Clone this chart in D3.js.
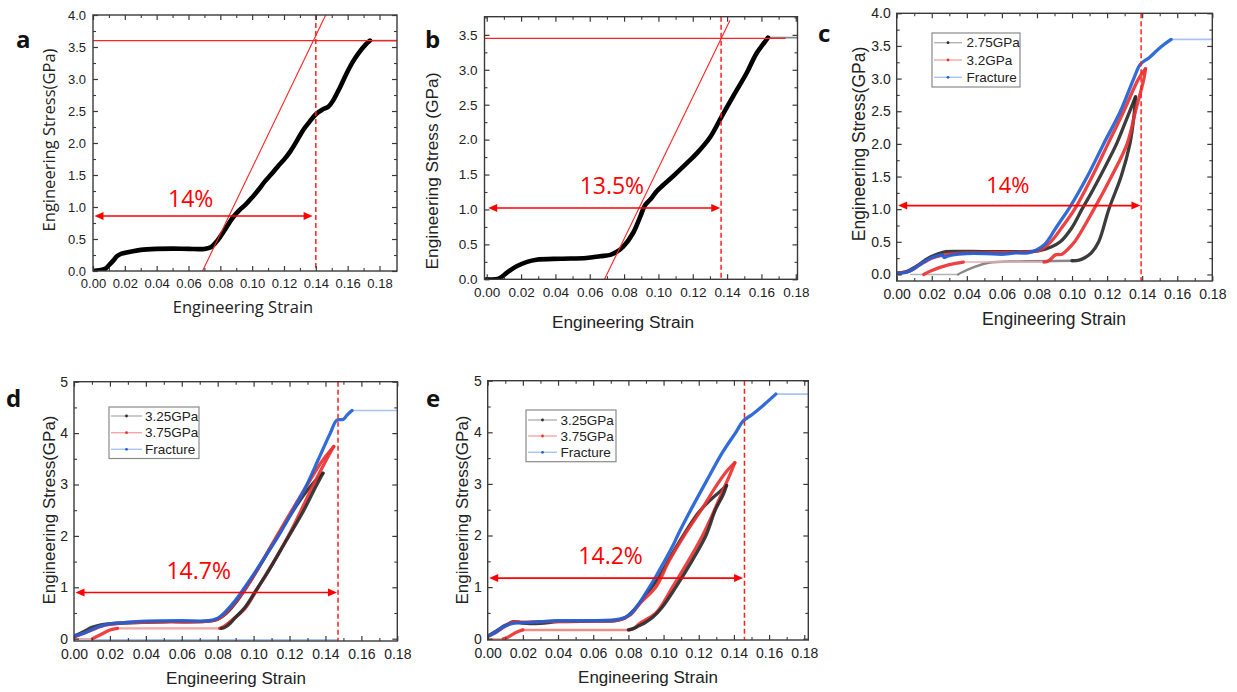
<!DOCTYPE html>
<html>
<head>
<meta charset="utf-8">
<style>
  body { margin: 0; background: #fff; }
  svg { display: block; }
</style>
</head>
<body>
<svg id="chart" width="1237" height="692"></svg>
<script src="https://cdn.jsdelivr.net/npm/d3@7/dist/d3.min.js"></script>
<script>
// ---------- tick values ----------
const strainTicks = [0, 0.02, 0.04, 0.06, 0.08, 0.10, 0.12, 0.14, 0.16, 0.18]
const strainMinor = [0.01, 0.03, 0.05, 0.07, 0.09, 0.11, 0.13, 0.15, 0.17]
const stressTicks4 = [0, 0.5, 1.0, 1.5, 2.0, 2.5, 3.0, 3.5, 4.0]
const stressTicks35 = [0, 0.5, 1.0, 1.5, 2.0, 2.5, 3.0, 3.5]
const stressMinorHalf = [0.25, 0.75, 1.25, 1.75, 2.25, 2.75, 3.25, 3.75]
const stressTicks5 = [0, 1, 2, 3, 4, 5]
const stressMinorOne = [0.5, 1.5, 2.5, 3.5, 4.5]

// ---------- panel a ----------
const aCurve = [[0,0],[0.004,0.01],[0.008,0.04],[0.010,0.09],[0.013,0.17],[0.015,0.23],[0.018,0.27],[0.021,0.29],[0.025,0.31],[0.03,0.33],[0.04,0.345],[0.05,0.35],[0.06,0.345],[0.07,0.345],[0.074,0.37],[0.078,0.47],[0.083,0.65],[0.088,0.84],[0.092,0.95],[0.096,1.04],[0.100,1.15],[0.104,1.27],[0.108,1.40],[0.112,1.51],[0.116,1.63],[0.120,1.74],[0.124,1.87],[0.128,2.03],[0.132,2.20],[0.136,2.33],[0.140,2.45],[0.144,2.52],[0.148,2.57],[0.151,2.67],[0.155,2.86],[0.159,3.07],[0.163,3.26],[0.167,3.41],[0.171,3.53],[0.174,3.60]]
const aTail = [[0.174,3.6],[0.191,3.6]]
const aPeak = 3.6
const aSlope = [[0.0688,0],[0.1462,4.0]]
const aDash = 0.14
const aArrow = [0.0, 0.138, 0.86]
const aText = ["14%", 0.0614, 1.0]

// ---------- panel b ----------
const bCurve = [[0,0],[0.007,0.01],[0.012,0.10],[0.0177,0.19],[0.0235,0.25],[0.029,0.28],[0.043,0.295],[0.058,0.305],[0.066,0.33],[0.072,0.35],[0.0755,0.39],[0.0796,0.47],[0.0854,0.67],[0.0893,0.89],[0.0922,1.06],[0.0955,1.15],[0.099,1.26],[0.1028,1.35],[0.1087,1.48],[0.1164,1.66],[0.1222,1.80],[0.130,2.03],[0.1368,2.33],[0.1435,2.62],[0.1513,2.95],[0.157,3.23],[0.162,3.40],[0.1638,3.46]]
const bTail = [[0.1638,3.46],[0.181,3.46]]
const bPeak = 3.45
const bPeakLineEnd = 0.174
const bSlope = [[0.0686,0],[0.1417,3.71]]
const bDash = 0.1365
const bArrow = [0.0, 0.136, 1.02]
const bText = ["13.5%", 0.0729, 1.22]

// ---------- panel c ----------
const cBlackLoad = [[0,0.02],[0.006,0.05],[0.012,0.14],[0.018,0.25],[0.024,0.32],[0.028,0.35],[0.035,0.355],[0.05,0.35],[0.065,0.35],[0.075,0.35],[0.082,0.37],[0.088,0.42],[0.0933,0.5],[0.100,0.72],[0.1057,1.0],[0.111,1.25],[0.116,1.5],[0.121,1.76],[0.1257,2.02],[0.1314,2.4],[0.1362,2.72]]
const cBlackUnload = [[0.1362,2.72],[0.1352,2.4],[0.1330,2.0],[0.128,1.5],[0.121,1.0],[0.1152,0.5],[0.111,0.33],[0.1075,0.26],[0.104,0.22],[0.100,0.21]]
const cBlackPlateau = [[0.100,0.21],[0.07,0.2],[0.0524,0.18],[0.0448,0.12],[0.037,0.03],[0.035,0]]
const cBlackBase = [[0.035,0],[0.008,0]]
const cRedLoad = [[0,0.02],[0.006,0.04],[0.010,0.09],[0.014,0.16],[0.020,0.25],[0.025,0.29],[0.030,0.31],[0.040,0.33],[0.050,0.33],[0.060,0.335],[0.070,0.34],[0.078,0.35],[0.082,0.38],[0.086,0.45],[0.0895,0.55],[0.095,0.75],[0.1015,1.0],[0.1115,1.5],[0.1205,2.0],[0.1295,2.5],[0.138,3.0],[0.1419,3.15]]
const cRedUnload = [[0.1419,3.15],[0.141,3.0],[0.1362,2.5],[0.1314,2.0],[0.1225,1.5],[0.1125,1.0],[0.1015,0.5],[0.097,0.37],[0.0943,0.31],[0.0905,0.30],[0.0867,0.21],[0.084,0.19]]
const cRedPlateau = [[0.084,0.19],[0.06,0.19],[0.038,0.19]]
const cRedDrop = [[0.038,0.19],[0.030,0.15],[0.020,0.06],[0.0154,0.0]]
const cBlueLoad = [[0,0.02],[0.005,0.03],[0.008,0.06],[0.012,0.13],[0.016,0.20],[0.020,0.26],[0.024,0.29],[0.026,0.30],[0.027,0.26],[0.029,0.28],[0.032,0.30],[0.040,0.32],[0.050,0.32],[0.060,0.31],[0.068,0.33],[0.075,0.33],[0.080,0.38],[0.084,0.45],[0.087,0.55],[0.090,0.68],[0.094,0.84],[0.0985,1.02],[0.1087,1.5],[0.118,2.0],[0.1276,2.5],[0.1352,3.0],[0.139,3.22],[0.144,3.32],[0.150,3.47],[0.1565,3.6]]
const cBlueTail = [[0.1565,3.6],[0.18,3.6]]
const cDash = 0.1394
const cArrow = [0.0, 0.139, 1.055]
const cText = ["14%", 0.0634, 1.25]
const cLegend = ["2.75GPa", "3.2GPa", "Fracture"]

// ---------- panel d ----------
const dBlueLoad = [[0,0.05],[0.005,0.10],[0.010,0.18],[0.015,0.25],[0.020,0.29],[0.025,0.30],[0.030,0.32],[0.040,0.34],[0.060,0.35],[0.075,0.35],[0.080,0.40],[0.085,0.55],[0.090,0.75],[0.0951,1.0],[0.100,1.25],[0.105,1.52],[0.1138,2.0],[0.122,2.5],[0.1297,3.0],[0.1362,3.5],[0.1427,4.0],[0.1463,4.25],[0.150,4.27],[0.152,4.35],[0.1548,4.44]]
const dBlueTail = [[0.1548,4.44],[0.18,4.44]]
const dBlueBase = [[0.0,-0.02],[0.147,-0.02]]
const dBlackLoad = [[0,0.05],[0.005,0.13],[0.010,0.22],[0.015,0.27],[0.020,0.29],[0.030,0.31],[0.050,0.33],[0.075,0.34],[0.080,0.38],[0.085,0.50],[0.090,0.70],[0.096,1.0],[0.100,1.22],[0.110,1.80],[0.120,2.38],[0.128,2.80],[0.133,3.02],[0.1386,3.22]]
const dBlackUnload = [[0.1386,3.22],[0.1345,2.95],[0.128,2.5],[0.118,1.9],[0.108,1.3],[0.1015,0.95],[0.095,0.6],[0.0895,0.4],[0.087,0.3],[0.084,0.22],[0.082,0.2]]
const dRedLoad = [[0,0.03],[0.005,0.10],[0.010,0.17],[0.015,0.24],[0.020,0.28],[0.030,0.31],[0.050,0.33],[0.075,0.34],[0.080,0.38],[0.085,0.52],[0.090,0.72],[0.096,1.0],[0.100,1.22],[0.110,1.82],[0.120,2.42],[0.130,3.0],[0.138,3.45],[0.1446,3.74]]
const dRedUnload = [[0.1446,3.74],[0.1408,3.5],[0.1334,3.0],[0.1194,2.0],[0.1026,1.0],[0.095,0.58],[0.0886,0.38],[0.083,0.23],[0.0811,0.2]]
const dRedPlateau = [[0.0811,0.2],[0.024,0.2]]
const dRedDrop = [[0.0242,0.2],[0.020,0.17],[0.015,0.08],[0.0102,0]]
const dRedBase = [[0.0102,0],[0,0]]
const dDash = 0.147
const dArrow = [0.0, 0.1464, 0.90]
const dText = ["14.7%", 0.0694, 1.16]
const dLegend = ["3.25GPa", "3.75GPa", "Fracture"]

// ---------- panel e ----------
const eBlueLoad = [[0,0.05],[0.0051,0.14],[0.0089,0.23],[0.0136,0.29],[0.0203,0.31],[0.030,0.33],[0.039,0.35],[0.058,0.35],[0.075,0.38],[0.0805,0.46],[0.0862,0.69],[0.092,1.0],[0.0957,1.21],[0.1051,1.79],[0.108,2.0],[0.1146,2.44],[0.124,3.03],[0.1335,3.61],[0.1411,4.0],[0.1453,4.22],[0.1506,4.35],[0.1563,4.51],[0.1638,4.74]]
const eBlueTail = [[0.1638,4.74],[0.183,4.74]]
const eRedLoad = [[0,0.04],[0.005,0.13],[0.009,0.22],[0.013,0.30],[0.016,0.33],[0.020,0.32],[0.030,0.33],[0.050,0.34],[0.070,0.35],[0.076,0.38],[0.081,0.46],[0.087,0.70],[0.0956,1.0],[0.103,1.5],[0.1117,2.0],[0.1215,2.5],[0.1307,3.0],[0.136,3.25],[0.1405,3.41]]
const eRedUnload = [[0.1405,3.41],[0.138,3.2],[0.1354,3.0],[0.1222,2.0],[0.1051,1.0],[0.0957,0.5],[0.0862,0.29],[0.0833,0.2],[0.0805,0.17]]
const eRedPlateau = [[0.0805,0.17],[0.020,0.17]]
const eRedDrop = [[0.020,0.17],[0.016,0.12],[0.012,0.04],[0.0089,0.0]]
const eRedBase = [[0.0089,0],[0,0]]
const eBlackLoad = [[0,0.05],[0.005,0.15],[0.010,0.26],[0.015,0.33],[0.020,0.30],[0.030,0.30],[0.040,0.33],[0.060,0.34],[0.073,0.35],[0.078,0.40],[0.083,0.55],[0.090,0.85],[0.0975,1.2],[0.105,1.65],[0.113,2.1],[0.120,2.45],[0.127,2.70],[0.132,2.85],[0.1358,2.97]]
const eBlackUnload = [[0.1358,2.97],[0.134,2.8],[0.1295,2.5],[0.1241,2.0],[0.116,1.5],[0.107,1.0],[0.099,0.6],[0.094,0.42],[0.089,0.3],[0.086,0.25],[0.083,0.2],[0.080,0.17]]
const eDash = 0.146
const eArrow = [0.0, 0.1452, 1.175]
const eText = ["14.2%", 0.0699, 1.45]
const eLegend = ["3.25GPa", "3.75GPa", "Fracture"]

// ---------- styles ----------
const BLACK = "#2b2b2b", RED = "#ea3232", BLUE = "#1f5fd6"
const BLACK_F = "#b4b4b4", RED_F = "#f3a6a6", BLUE_F = "#a9c3f2"
const ARROW_RED = "#ff0000"
const sansTick = "'Liberation Sans', Arial, sans-serif"
const sansTitle = "'Open Sans', 'Liberation Sans', sans-serif"

const svg = d3.select("#chart")
const line = d3.line().curve(d3.curveCatmullRom.alpha(0.5))

function drawPanel(p) {
  const x = d3.scaleLinear().domain(p.xDomain).range([p.left, p.right])
  const y = d3.scaleLinear().domain(p.yDomain).range([p.bottom, p.top])
  const g = svg.append("g")
  line.x(d => x(d[0])).y(d => y(d[1]))

  // curves
  const clip = "clip-" + p.letter
  g.append("clipPath").attr("id", clip).append("rect")
    .attr("x", p.left).attr("y", p.top).attr("width", p.right - p.left).attr("height", p.bottom - p.top)
  const cg = g.append("g").attr("clip-path", `url(#${clip})`)
  for (const s of p.series) {
    cg.append("path").attr("d", line(s.pts))
      .attr("fill", "none").attr("stroke", s.color)
      .attr("stroke-width", s.width).attr("stroke-opacity", s.opacity || 1)
      .attr("stroke-linecap", "round").attr("stroke-linejoin", "round")
  }

  // red annotations
  const ag = g.append("g")
  if (p.peak !== undefined) {
    ag.append("line").attr("x1", p.left).attr("x2", x(p.peakEnd))
      .attr("y1", y(p.peak)).attr("y2", y(p.peak))
      .attr("stroke", "#ff2222").attr("stroke-width", 1.3)
    ag.append("line").attr("x1", x(p.slope[0][0])).attr("y1", y(p.slope[0][1]))
      .attr("x2", x(p.slope[1][0])).attr("y2", y(p.slope[1][1]))
      .attr("stroke", "#ff2222").attr("stroke-width", 1.1)
  }
  ag.append("line").attr("x1", x(p.dash)).attr("x2", x(p.dash))
    .attr("y1", p.top).attr("y2", p.bottom)
    .attr("stroke", "#ff2020").attr("stroke-width", 1.5).attr("stroke-dasharray", "5,3")
  const ay = y(p.arrow[2]), ax1 = x(p.arrow[0]) + 1.5, ax2 = x(p.arrow[1])
  ag.append("line").attr("x1", ax1 + 6).attr("x2", ax2 - 6).attr("y1", ay).attr("y2", ay)
    .attr("stroke", ARROW_RED).attr("stroke-width", 1.6)
  ag.append("path").attr("d", `M${ax1},${ay}L${ax1 + 9},${ay - 4}L${ax1 + 9},${ay + 4}Z`).attr("fill", ARROW_RED)
  ag.append("path").attr("d", `M${ax2},${ay}L${ax2 - 9},${ay - 4}L${ax2 - 9},${ay + 4}Z`).attr("fill", ARROW_RED)
  ag.append("text").attr("x", x(p.text[1])).attr("y", y(p.text[2]))
    .attr("text-anchor", "middle").attr("fill", ARROW_RED)
    .attr("font-family", sansTitle).attr("font-size", p.textSize)
    .text(p.text[0])

  // frame
  g.append("rect").attr("x", p.left).attr("y", p.top)
    .attr("width", p.right - p.left).attr("height", p.bottom - p.top)
    .attr("fill", "none").attr("stroke", "#3a3a3a").attr("stroke-width", 1.4)

  // axes with inward ticks on all four sides
  const fx = d3.format(".2f"), fy = d3.format(p.yFormat)
  const axes = [
    [d3.axisBottom(x), `translate(0,${p.bottom})`, strainTicks, strainMinor, fx, true],
    [d3.axisTop(x), `translate(0,${p.top})`, strainTicks, strainMinor, fx, false],
    [d3.axisLeft(y), `translate(${p.left},0)`, p.yTicks, p.yMinor, fy, true],
    [d3.axisRight(y), `translate(${p.right},0)`, p.yTicks, p.yMinor, fy, false]
  ]
  axes.forEach(([ax, tr, major, minor, fmt, labels], i) => {
    const scaleDomain = i < 2 ? p.xDomain : p.yDomain
    const inside = v => v >= scaleDomain[0] - 1e-9 && v <= scaleDomain[1] + 1e-9
    const ag2 = g.append("g").attr("transform", tr)
      .call(ax.tickValues(major.filter(inside)).tickSizeInner(-5).tickSizeOuter(0)
        .tickPadding(i < 2 ? p.xPad : p.yPad).tickFormat(labels ? fmt : ""))
    ag2.select(".domain").remove()
    ag2.selectAll("line").attr("stroke", "#3a3a3a").attr("stroke-width", 1.2)
    ag2.selectAll("text").attr("font-family", sansTick).attr("font-size", p.tickSize).attr("fill", "#222")
    const mg = g.append("g").attr("transform", tr)
      .call(ax.tickValues(minor.filter(inside)).tickSizeInner(-3).tickFormat(""))
    mg.select(".domain").remove()
    mg.selectAll("line").attr("stroke", "#3a3a3a").attr("stroke-width", 1.1)
  })

  // titles
  g.append("text").attr("x", p.xTitle[0]).attr("y", p.xTitle[1])
    .attr("text-anchor", "middle").attr("font-family", p.titleFont)
    .attr("font-size", p.titleSize).attr("fill", "#222").text("Engineering Strain")
  g.append("text").attr("transform", `translate(${p.yTitle[0]},${p.yTitle[1]}) rotate(-90)`)
    .attr("text-anchor", "middle").attr("dominant-baseline", "central").attr("font-family", p.titleFont)
    .attr("font-size", p.titleSize).attr("fill", "#222").text(p.yTitleText)
  g.append("text").attr("x", p.letterPos[0]).attr("y", p.letterPos[1])
    .attr("font-family", sansTitle).attr("font-weight", "bold").attr("font-size", 24)
    .attr("fill", "#111").text(p.letter)

  // legend
  if (p.legend) {
    const L = p.legend
    g.append("rect").attr("x", L.box[0]).attr("y", L.box[1]).attr("width", L.box[2]).attr("height", L.box[3])
      .attr("fill", "#fff").attr("stroke", "#8a8a8a").attr("stroke-width", 1.2)
    const cols = [[BLACK_F, BLACK], [RED_F, RED], [BLUE_F, BLUE]]
    L.names.forEach((name, i) => {
      const yy = L.rows[i]
      g.append("line").attr("x1", L.line[0]).attr("x2", L.line[1]).attr("y1", yy).attr("y2", yy)
        .attr("stroke", cols[i][0]).attr("stroke-width", 1.4)
      g.append("circle").attr("cx", (L.line[0] + L.line[1]) / 2).attr("cy", yy).attr("r", 1.4).attr("fill", cols[i][1])
      g.append("text").attr("x", L.textX).attr("y", yy).attr("dominant-baseline", "central")
        .attr("font-family", sansTick).attr("font-size", 13.5).attr("fill", "#222").text(name)
    })
  }
}

const thick = (pts, color) => ({ pts, color, width: 3.3, opacity: 0.92 })
const faint = (pts, color) => ({ pts, color, width: 1.6 })

drawPanel({
  letter: "a", letterPos: [16, 48],
  left: 93, right: 397, top: 15, bottom: 271,
  xDomain: [0, 0.191], yDomain: [0, 4.0],
  yTicks: stressTicks4, yMinor: stressMinorHalf, yFormat: ".1f",
  tickSize: 13, xPad: 8, yPad: 7,
  series: [faint(aTail, "#999"), { pts: aCurve, color: "#000", width: 4.6 }],
  peak: aPeak, peakEnd: 0.191, slope: aSlope,
  dash: aDash, arrow: aArrow, text: aText, textSize: 23,
  titleFont: sansTitle, titleSize: 16.5,
  xTitle: [243, 313], yTitle: [48, 140], yTitleText: "Engineering Stress(GPa)"
})

drawPanel({
  letter: "b", letterPos: [425, 48],
  left: 484.5, right: 797.5, top: 16.7, bottom: 279.3,
  xDomain: [-0.0013, 0.181], yDomain: [0, 3.76],
  yTicks: stressTicks35, yMinor: stressMinorHalf, yFormat: ".1f",
  tickSize: 13.5, xPad: 8, yPad: 7,
  series: [faint(bTail, "#888"), { pts: bCurve, color: "#000", width: 4.6 }],
  peak: bPeak, peakEnd: bPeakLineEnd, slope: bSlope,
  dash: bDash, arrow: bArrow, text: bText, textSize: 23,
  titleFont: sansTick, titleSize: 17.3,
  xTitle: [623, 328], yTitle: [432, 171], yTitleText: "Engineering Stress (GPa)"
})

drawPanel({
  letter: "c", letterPos: [818, 42],
  left: 896.7, right: 1212.3, top: 13.3, bottom: 281,
  xDomain: [0, 0.18], yDomain: [-0.1, 4.0],
  yTicks: stressTicks4, yMinor: stressMinorHalf, yFormat: ".1f",
  tickSize: 14, xPad: 8, yPad: 6,
  series: [
    faint(cBlackBase, BLACK_F), { pts: cBlackPlateau, color: "#888", width: 2.4 },
    faint(cRedPlateau, "#e9b0b0"), faint(cBlueTail, BLUE_F),
    thick(cBlackLoad, BLACK), thick(cBlackUnload, BLACK),
    thick(cRedDrop, RED), thick(cRedLoad, RED), thick(cRedUnload, RED),
    thick(cBlueLoad, BLUE)
  ],
  dash: cDash, arrow: cArrow, text: cText, textSize: 22,
  titleFont: sansTick, titleSize: 17.5,
  xTitle: [1054, 325], yTitle: [859, 144], yTitleText: "Engineering Stress(GPa)",
  legend: { box: [932, 33, 88, 54], rows: [42.7, 60, 77.3], line: [934, 962], textX: 966.5, names: cLegend }
})

drawPanel({
  letter: "d", letterPos: [6, 407],
  left: 74, right: 397.3, top: 381.7, bottom: 641,
  xDomain: [0, 0.18], yDomain: [-0.045, 5],
  yTicks: stressTicks5, yMinor: stressMinorOne, yFormat: "d",
  tickSize: 14, xPad: 8, yPad: 6,
  series: [
    faint(dBlueBase, BLUE_F), faint(dRedBase, RED_F),
    { pts: dRedPlateau, color: RED_F, width: 2.4 }, faint(dBlueTail, BLUE_F),
    thick(dBlackLoad, BLACK), thick(dRedDrop, RED),
    thick(dRedLoad, RED), thick(dRedUnload, RED), thick(dBlackUnload, BLACK),
    thick(dBlueLoad, BLUE)
  ],
  dash: dDash, arrow: dArrow, text: dText, textSize: 23,
  titleFont: sansTick, titleSize: 17,
  xTitle: [236, 684], yTitle: [49, 510], yTitleText: "Engineering Stress(GPa)",
  legend: { box: [109, 407, 90, 51.5], rows: [416, 432.7, 449.3], line: [111, 142], textX: 145, names: dLegend }
})

drawPanel({
  letter: "e", letterPos: [426, 407],
  left: 487.7, right: 808.3, top: 380.7, bottom: 640,
  xDomain: [0, 0.1823], yDomain: [-0.025, 5],
  yTicks: stressTicks5, yMinor: stressMinorOne, yFormat: "d",
  tickSize: 14, xPad: 8, yPad: 6,
  series: [
    faint(eRedBase, RED_F), { pts: eRedPlateau, color: "#ee8c8c", width: 2.4 }, faint(eBlueTail, BLUE_F),
    thick(eBlackLoad, BLACK), thick(eRedDrop, RED),
    thick(eRedLoad, RED), thick(eRedUnload, RED), thick(eBlackUnload, BLACK),
    thick(eBlueLoad, BLUE)
  ],
  dash: eDash, arrow: eArrow, text: eText, textSize: 23,
  titleFont: sansTick, titleSize: 17,
  xTitle: [648, 683], yTitle: [462, 510], yTitleText: "Engineering Stress(GPa)",
  legend: { box: [526, 410, 90, 51.7], rows: [420, 436, 452.3], line: [528, 557], textX: 560.5, names: eLegend }
})
</script>
</body>
</html>
